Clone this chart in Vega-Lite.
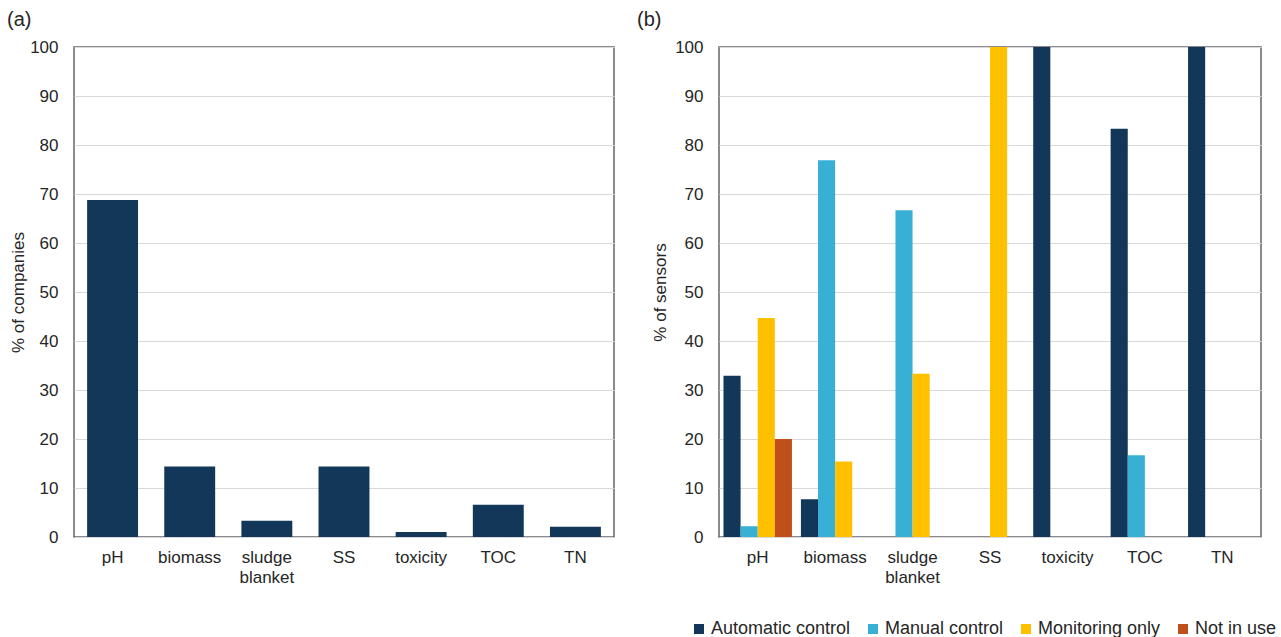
{
  "$schema": "https://vega.github.io/schema/vega-lite/v6.json",
  "background": "white",
  "padding": {"left": 6, "top": 9, "right": 5, "bottom": 5},
  "config": {
    "font": "Liberation Sans",
    "view": {"stroke": "#666666", "strokeWidth": 1.5},
    "axis": {
      "labelFont": "Liberation Sans", "labelFontSize": 17, "labelColor": "#262626",
      "titleFont": "Liberation Sans", "titleFontSize": 17, "titleFontWeight": "normal", "titleColor": "#262626",
      "ticks": false, "tickSize": 0, "domain": false,
      "gridColor": "#d9d9d9", "gridWidth": 1.2
    },
    "axisX": {"grid": false, "labelAngle": 0, "labelPadding": 12, "labelLineHeight": 20, "title": null},
    "axisY": {"labelPadding": 16, "titlePadding": 5},
    "title": {"fontSize": 20, "fontWeight": "normal", "font": "Liberation Sans", "color": "#262626", "anchor": "start", "frame": "group"},
    "concat": {"spacing": 21}
  },
  "datasets": {
    "companies": [
      {"parameter": "pH", "percent": 68.8},
      {"parameter": "biomass", "percent": 14.4},
      {"parameter": "sludge blanket", "percent": 3.3},
      {"parameter": "SS", "percent": 14.4},
      {"parameter": "toxicity", "percent": 1.0},
      {"parameter": "TOC", "percent": 6.6},
      {"parameter": "TN", "percent": 2.1}
    ],
    "sensors": [
      {"parameter": "pH", "use": "Automatic control", "percent": 32.9},
      {"parameter": "pH", "use": "Manual control", "percent": 2.2},
      {"parameter": "pH", "use": "Monitoring only", "percent": 44.7},
      {"parameter": "pH", "use": "Not in use", "percent": 20.0},
      {"parameter": "biomass", "use": "Automatic control", "percent": 7.7},
      {"parameter": "biomass", "use": "Manual control", "percent": 76.9},
      {"parameter": "biomass", "use": "Monitoring only", "percent": 15.4},
      {"parameter": "sludge blanket", "use": "Manual control", "percent": 66.7},
      {"parameter": "sludge blanket", "use": "Monitoring only", "percent": 33.3},
      {"parameter": "SS", "use": "Monitoring only", "percent": 100},
      {"parameter": "toxicity", "use": "Automatic control", "percent": 100},
      {"parameter": "TOC", "use": "Automatic control", "percent": 83.3},
      {"parameter": "TOC", "use": "Manual control", "percent": 16.7},
      {"parameter": "TN", "use": "Automatic control", "percent": 100}
    ]
  },
  "hconcat": [
    {
      "title": {"text": "(a)", "dx": -67, "offset": 8},
      "width": 540,
      "height": 490,
      "data": {"name": "companies"},
      "mark": {"type": "bar", "color": "#133759"},
      "encoding": {
        "x": {
          "field": "parameter", "type": "nominal",
          "sort": ["pH", "biomass", "sludge blanket", "SS", "toxicity", "TOC", "TN"],
          "scale": {"paddingInner": 0.34, "paddingOuter": 0.17},
          "axis": {"labelExpr": "datum.value == 'sludge blanket' ? ['sludge', 'blanket'] : datum.value"}
        },
        "y": {
          "field": "percent", "type": "quantitative",
          "scale": {"domain": [0, 100]},
          "axis": {"values": [0, 10, 20, 30, 40, 50, 60, 70, 80, 90, 100], "title": "% of companies", "titlePadding": 2}
        }
      }
    },
    {
      "title": {"text": "(b)", "dx": -82, "offset": 8},
      "width": 542,
      "height": 490,
      "data": {"name": "sensors"},
      "mark": {"type": "bar"},
      "encoding": {
        "x": {
          "field": "parameter", "type": "nominal",
          "sort": ["pH", "biomass", "sludge blanket", "SS", "toxicity", "TOC", "TN"],
          "scale": {"paddingInner": 0.116, "paddingOuter": 0.058},
          "axis": {"labelExpr": "datum.value == 'sludge blanket' ? ['sludge', 'blanket'] : datum.value"}
        },
        "xOffset": {
          "field": "use", "type": "nominal",
          "scale": {"domain": ["Automatic control", "Manual control", "Monitoring only", "Not in use"], "paddingInner": 0, "paddingOuter": 0}
        },
        "y": {
          "field": "percent", "type": "quantitative",
          "scale": {"domain": [0, 100]},
          "axis": {"values": [0, 10, 20, 30, 40, 50, 60, 70, 80, 90, 100], "title": "% of sensors"}
        },
        "color": {
          "field": "use", "type": "nominal",
          "scale": {
            "domain": ["Automatic control", "Manual control", "Monitoring only", "Not in use"],
            "range": ["#133759", "#38b0d6", "#ffc000", "#c0501b"]
          },
          "legend": {
            "orient": "none", "direction": "horizontal", "legendX": 616, "legendY": 573,
            "title": null, "symbolType": "square", "symbolSize": 100, "symbolStrokeWidth": 0,
            "labelFontSize": 18, "labelFont": "Liberation Sans", "labelColor": "#262626",
            "labelOffset": 3, "columnPadding": 13
          }
        }
      }
    }
  ]
}
